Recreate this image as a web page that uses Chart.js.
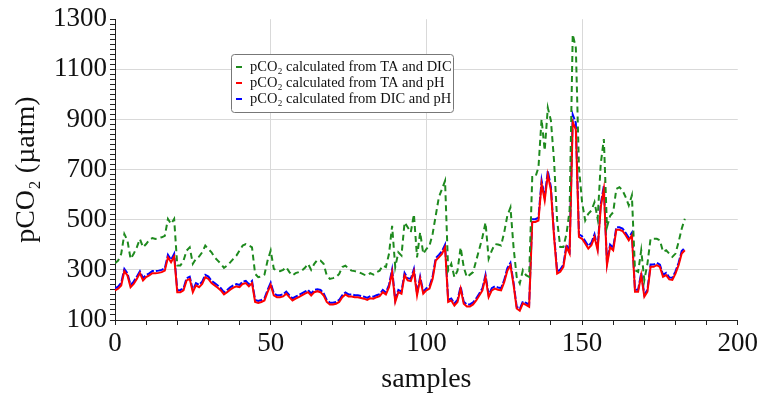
<!DOCTYPE html>
<html>
<head>
<meta charset="utf-8">
<script src="https://cdn.jsdelivr.net/npm/chart.js@4.4.1/dist/chart.umd.min.js"></script>
<style>
  html, body { margin: 0; padding: 0; background: #fff; }
  canvas { display: block; }
</style>
</head>
<body>
<canvas id="chart" width="761" height="396"></canvas>
<script>
// series labels
const seriesNames = [
    "pCO\u2082 calculated from TA and DIC",
    "pCO\u2082 calculated from TA and pH",
    "pCO\u2082 calculated from DIC and pH"
];

// pCO2 from TA and DIC (samples 0..183)
const taDic = [
    326, 337, 364, 443, 417, 344, 364, 390, 423, 390,
    403, 419, 427, 423, 427, 430, 436, 503, 483, 503,
    317, 317, 337, 377, 390, 324, 344, 353, 370, 397,
    383, 370, 350, 337, 324, 308, 317, 330, 344, 357,
    377, 397, 403, 397, 390, 284, 271, 274, 281, 337,
    377, 304, 297, 295, 300, 311, 291, 278, 287, 291,
    297, 308, 324, 300, 324, 340, 337, 324, 278, 264,
    267, 271, 284, 311, 317, 304, 297, 295, 291, 287,
    281, 278, 287, 281, 291, 297, 317, 311, 364, 476,
    311, 370, 357, 489, 470, 450, 522, 350, 450, 364,
    383, 397, 443, 516, 589, 622, 655, 297, 324, 271,
    297, 390, 311, 271, 281, 291, 337, 383, 430, 489,
    344, 377, 403, 401, 397, 450, 516, 549, 390, 272,
    246, 299, 279, 272, 670, 670, 709, 901, 776, 947,
    895, 736, 497, 391, 391, 444, 537, 1239, 1186, 709,
    570, 497, 524, 537, 570, 504, 723, 822, 471, 515,
    530, 623, 630, 617, 590, 557, 597, 299, 292, 378,
    259, 325, 424, 424, 424, 418, 372, 378, 365, 352,
    365, 411, 464, 504
];

// pCO2 from TA and pH
const taPh = [
    218, 225, 238, 295, 278, 231, 244, 264, 287, 258,
    271, 278, 287, 287, 288, 291, 297, 350, 330, 353,
    211, 211, 218, 258, 264, 211, 238, 231, 244, 271,
    264, 247, 238, 229, 218, 202, 211, 221, 229, 234,
    231, 244, 247, 234, 247, 172, 168, 172, 178, 211,
    240, 198, 191, 191, 194, 205, 191, 178, 185, 191,
    198, 205, 211, 198, 211, 215, 211, 198, 172, 162,
    162, 165, 172, 191, 202, 194, 194, 191, 191, 188,
    185, 180, 187, 185, 191, 195, 211, 202, 231, 291,
    172, 211, 205, 278, 258, 255, 294, 198, 264, 205,
    218, 225, 264, 337, 350, 364, 390, 172, 178, 158,
    172, 225, 165, 154, 154, 162, 178, 198, 218, 271,
    191, 218, 225, 221, 218, 251, 297, 318, 240, 146,
    137, 166, 160, 153, 491, 491, 497, 643, 577, 680,
    617, 431, 285, 292, 312, 391, 365, 890, 860, 431,
    424, 405, 385, 398, 431, 378, 550, 623, 319, 391,
    378, 460, 460, 455, 438, 418, 438, 213, 213, 279,
    193, 213, 312, 312, 319, 312, 272, 279, 262, 260,
    285, 319, 365, 378
];

// pCO2 from DIC and pH
const dicPh = [
    226, 233, 248, 304, 286, 240, 253, 273, 295, 267,
    280, 286, 295, 295, 297, 300, 306, 360, 340, 364,
    219, 220, 226, 267, 273, 219, 247, 240, 253, 280,
    273, 256, 247, 238, 227, 210, 220, 230, 238, 243,
    240, 253, 256, 243, 256, 180, 176, 180, 186, 220,
    249, 206, 199, 199, 202, 213, 199, 186, 193, 199,
    206, 213, 220, 206, 220, 223, 220, 206, 180, 169,
    169, 172, 180, 199, 210, 202, 202, 199, 199, 196,
    193, 188, 195, 193, 199, 203, 220, 210, 240, 302,
    180, 220, 213, 288, 267, 264, 304, 206, 273, 213,
    227, 234, 273, 347, 360, 374, 400, 180, 186, 166,
    180, 234, 173, 162, 162, 170, 186, 206, 227, 280,
    199, 227, 234, 230, 227, 260, 307, 328, 249, 153,
    144, 174, 168, 161, 502, 502, 508, 657, 590, 695,
    630, 442, 294, 301, 321, 401, 375, 920, 886, 442,
    434, 415, 395, 408, 442, 388, 562, 635, 328, 401,
    388, 470, 470, 465, 448, 428, 448, 221, 221, 288,
    201, 221, 321, 321, 328, 321, 280, 288, 270, 268,
    294, 328, 375, 388
];

function toPoints(arr) {
    return arr.map((v, i) => ({ x: i, y: v }));
}

const serif = "'Liberation Serif', 'Times New Roman', serif";

// legend drawn inside the plot area
const legendBox = {
    id: "legendBox",
    afterDraw(chart) {
        const ctx = chart.ctx;
        const x = 231, y = 54, w = 222, h = 58;
        ctx.save();
        ctx.fillStyle = "#fff";
        ctx.strokeStyle = "#777";
        ctx.lineWidth = 1;
        ctx.beginPath();
        ctx.roundRect(x + 0.5, y + 0.5, w, h, 3);
        ctx.fill();
        ctx.stroke();
        ctx.font = "14.5px " + serif;
        ctx.textBaseline = "middle";
        chart.data.datasets.forEach((ds, i) => {
            const cy = y + 13 + i * 16;
            ctx.strokeStyle = ds.borderColor;
            ctx.lineWidth = 2;
            ctx.beginPath();
            ctx.moveTo(x + 5, cy);
            ctx.lineTo(x + 11, cy);
            ctx.stroke();
            ctx.fillStyle = "#111";
            ctx.fillText(ds.label, x + 19, cy);
        });
        ctx.restore();
    }
};

new Chart(document.getElementById("chart"), {
    type: "line",
    data: {
        datasets: [
            { label: seriesNames[0], data: toPoints(taDic), borderColor: "#1e8a1e", borderWidth: 2, borderDash: [6, 4] },
            { label: seriesNames[1], data: toPoints(taPh), borderColor: "#ff0000", borderWidth: 2 },
            { label: seriesNames[2], data: toPoints(dicPh), borderColor: "#0000ff", borderWidth: 2, borderDash: [8, 2] }
        ]
    },
    options: {
        responsive: false,
        animation: false,
        devicePixelRatio: 1,
        elements: { point: { radius: 0 }, line: { tension: 0 } },
        layout: { padding: { top: 18, right: 23, left: 0, bottom: 0 } },
        plugins: { legend: { display: false }, tooltip: { enabled: false } },
        scales: {
            x: {
                type: "linear",
                min: 0,
                max: 200,
                afterFit: s => { s.height = 76; },
                border: { color: "#222", width: 1 },
                grid: {
                    color: c => (c.tick && c.tick.value % 50 === 0 && c.tick.value > 0 && c.tick.value < 200) ? "#d9d9d9" : "rgba(0,0,0,0)",
                    tickColor: "#222",
                    tickLength: 5
                },
                ticks: {
                    stepSize: 10,
                    autoSkip: false,
                    maxTicksLimit: 50,
                    maxRotation: 0,
                    color: "#111",
                    font: { family: serif, size: 27 },
                    callback: v => (v % 50 === 0 ? v : "")
                },
                title: { display: true, text: "samples", color: "#111", font: { family: serif, size: 28 }, padding: { top: 0, bottom: 0 } }
            },
            y: {
                min: 100,
                max: 1300,
                afterFit: s => { s.width = 115; },
                border: { color: "#222", width: 1 },
                grid: {
                    color: c => (c.tick && (c.tick.value - 100) % 200 === 0 && c.tick.value > 100 && c.tick.value < 1300) ? "#d9d9d9" : "rgba(0,0,0,0)",
                    tickColor: "#222",
                    tickLength: 5
                },
                ticks: {
                    stepSize: 20,
                    autoSkip: false,
                    maxTicksLimit: 100,
                    color: "#111",
                    font: { family: serif, size: 27 },
                    callback: v => ((v - 100) % 200 === 0 ? v : "")
                },
                title: { display: true, text: "pCO\u2082 (\u00b5atm)", color: "#111", font: { family: serif, size: 28 }, padding: { top: 10, bottom: 4 } }
            }
        }
    },
    plugins: [legendBox]
});
</script>
</body>
</html>
